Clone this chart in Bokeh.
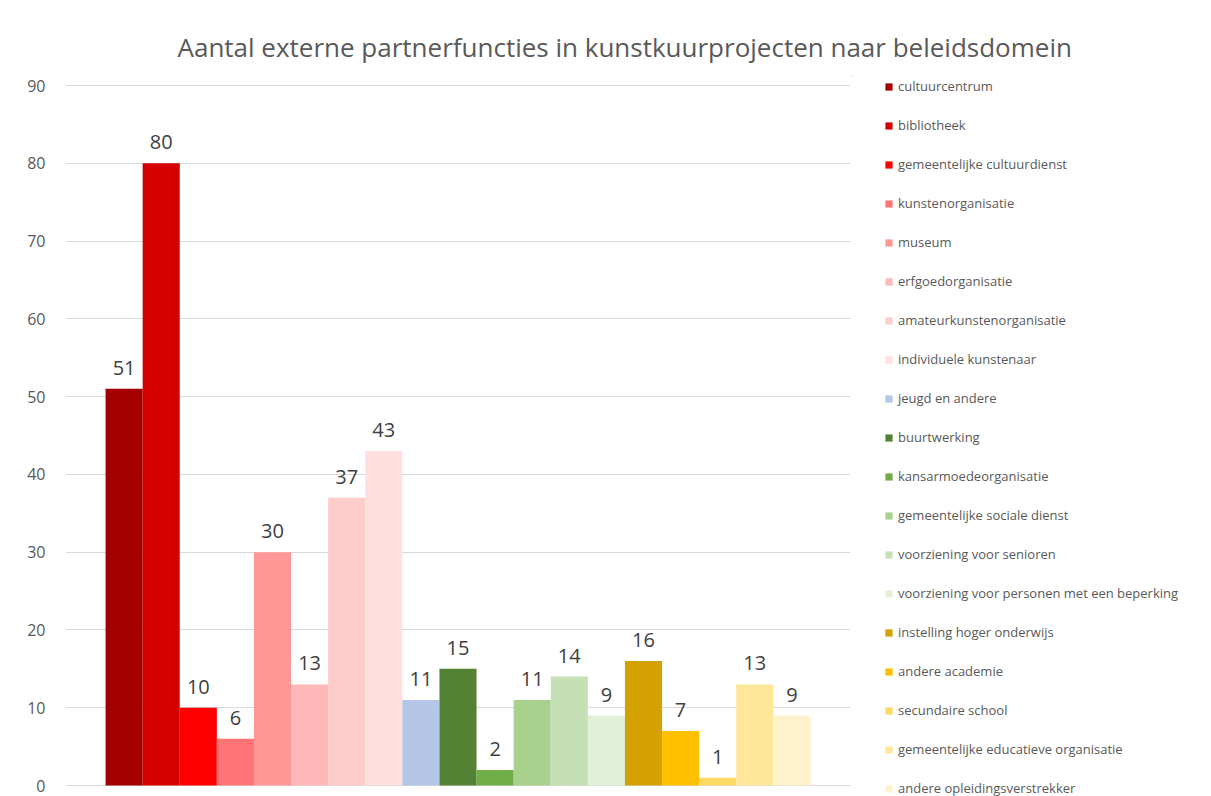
from bokeh.plotting import figure
from bokeh.layouts import row, column
from bokeh.models import (ColumnDataSource, FactorRange, Range1d, Legend, LegendItem,
                          FixedTicker, Label)
from bokeh.core.properties import value
from bokeh.embed import file_html
from bokeh.resources import INLINE

categories = [
    "cultuurcentrum", "bibliotheek", "gemeentelijke cultuurdienst", "kunstenorganisatie",
    "museum", "erfgoedorganisatie", "amateurkunstenorganisatie", "individuele kunstenaar",
    "jeugd en andere", "buurtwerking", "kansarmoedeorganisatie", "gemeentelijke sociale dienst",
    "voorziening voor senioren", "voorziening voor personen met een beperking",
    "instelling hoger onderwijs", "andere academie", "secundaire school",
    "gemeentelijke educatieve organisatie", "andere opleidingsverstrekker",
]
counts = [51, 80, 10, 6, 30, 13, 37, 43, 11, 15, 2, 11, 14, 9, 16, 7, 1, 13, 9]
colors = [
    "#A50000", "#D50000", "#FF0000", "#FF7575", "#FF9797", "#FFB7B7", "#FFCCCC", "#FFDFDF",
    "#B4C7E7", "#548235", "#70AD47", "#A9D18E", "#C5E0B4", "#E2F0D9",
    "#D4A100", "#FFC000", "#FFD966", "#FFE699", "#FFF2CC",
]
y_ticks = [0, 10, 20, 30, 40, 50, 60, 70, 80, 90]
title_text = "Aantal externe partnerfuncties in kunstkuurprojecten naar beleidsdomein"

FONT = "Open Sans"

source = ColumnDataSource(dict(cat=categories, val=counts, col=colors,
                               idx=list(range(len(categories))),
                               lbl=[str(v) for v in counts]))

# ---- title strip ----
t = figure(width=1211, height=75, output_backend="svg", toolbar_location=None,
           x_range=Range1d(0, 1), y_range=Range1d(0, 1),
           min_border_left=0, min_border_right=0, min_border_top=0, min_border_bottom=0,
           outline_line_color=None)
t.axis.visible = False
t.grid.visible = False
t.add_layout(Label(x=177, y=29, x_units="screen", y_units="screen", text=title_text,
                   text_font=FONT, text_font_size="26px", text_color="#595959",
                   text_align="left", text_baseline="middle"))
t.background_fill_color = "white"
t.border_fill_color = "white"

# ---- main chart ----
p = figure(width=851, height=721, output_backend="svg", toolbar_location=None,
           x_range=FactorRange(factors=categories, range_padding=1.08,
                               range_padding_units="absolute"),
           y_range=Range1d(-1.414, 91.286),
           min_border_left=65, min_border_right=1, min_border_top=0,
           min_border_bottom=0, outline_line_color=None)

bars = p.vbar(x="cat", top="val", bottom=0, width=1.0, fill_color="col", line_color=None,
              source=source)

p.text(x="cat", y="val", text="lbl", source=source, text_align="center",
       text_baseline="middle", y_offset=-21, text_font=value(FONT),
       text_font_size="20px", text_color="#404040")

p.xaxis.visible = False
p.xgrid.grid_line_color = None
p.ygrid.grid_line_color = "#D9D9D9"
p.ygrid.grid_line_width = 1
p.yaxis.ticker = FixedTicker(ticks=y_ticks)
p.ygrid.ticker = FixedTicker(ticks=y_ticks)
p.yaxis.axis_line_color = None
p.yaxis.major_tick_line_color = None
p.yaxis.minor_tick_line_color = None
p.yaxis.major_label_standoff = 14
p.yaxis.major_label_text_font = FONT
p.yaxis.major_label_text_font_size = "16px"
p.yaxis.major_label_text_color = "#595959"
p.background_fill_color = "white"
p.border_fill_color = "white"

# ---- legend panel (swatch renderer kept outside its visible ranges) ----
q = figure(width=360, height=721, output_backend="svg", toolbar_location=None,
           x_range=Range1d(1000, 1100), y_range=Range1d(-2000, -1000),
           min_border_left=0, min_border_right=0, min_border_top=0, min_border_bottom=0,
           outline_line_color=None)
q.axis.visible = False
q.grid.visible = False
swatches = q.vbar(x="idx", top="val", width=1.0, fill_color="col", line_color=None,
                  source=source)

items = [LegendItem(label=c, renderers=[swatches], index=i) for i, c in enumerate(categories)]
legend = Legend(items=items, location=(33, -1), orientation="vertical",
                glyph_width=9, glyph_height=9, label_height=18, spacing=21,
                label_standoff=5, padding=0, margin=0,
                label_text_font=FONT, label_text_font_size="13px",
                label_text_color="#595959",
                border_line_color=None, background_fill_alpha=0)
q.add_layout(legend, "center")
q.background_fill_color = "white"
q.border_fill_color = "white"

layout = column(t, row(p, q, spacing=0), spacing=0)

open("out.html", "w").write(file_html(layout, INLINE))
